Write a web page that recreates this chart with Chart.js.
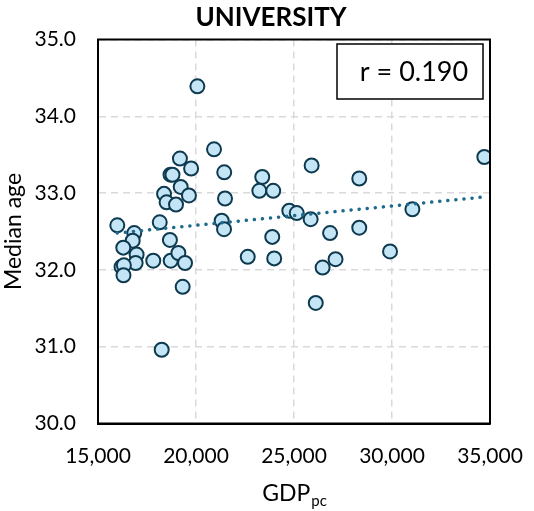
<!DOCTYPE html>
<html>
<head>
<meta charset="utf-8">
<script src="https://cdn.jsdelivr.net/npm/chart.js@4"></script>
<style>
  html, body { margin: 0; padding: 0; background: #ffffff; }
  #wrap { width: 534px; height: 511px; }
</style>
</head>
<body>
<div id="wrap"><canvas id="c" width="534" height="511"></canvas></div>
<script>
const chartTitle = 'UNIVERSITY';
const xAxisTitle = 'GDP';
const xAxisSub = 'pc';
const yAxisTitle = 'Median age';
const rLabel = 'r = 0.190';

const gdp = [20070, 20920, 19180, 19750, 18700, 18800, 21440, 19220, 18370, 19640,
             21480, 18500, 18980, 15985, 16850, 16770, 18150, 21310, 21430, 18670,
             16290, 16970, 16920, 17820, 18710, 19100, 19440, 16200, 16320, 16300,
             19320, 18250, 23380, 23230, 23940, 25900, 28330, 24760, 25140, 25850,
             26840, 28330, 23890, 22640, 23990, 27120, 26460, 26110, 34710, 31040,
             29900];
const age = [34.39, 33.57, 33.45, 33.32, 33.24, 33.24, 33.27, 33.08, 32.99, 32.97,
             32.93, 32.88, 32.85, 32.58, 32.48, 32.38, 32.62, 32.64, 32.53, 32.39,
             32.29, 32.20, 32.09, 32.12, 32.12, 32.22, 32.09, 32.04, 32.06, 31.93,
             31.78, 30.96, 33.21, 33.03, 33.03, 33.36, 33.19, 32.77, 32.74, 32.66,
             32.48, 32.55, 32.43, 32.17, 32.15, 32.14, 32.03, 31.57, 33.47, 32.79,
             32.24];
const trendX = [15985, 34710];
const trendY = [32.48, 32.95];

const xTicks = [15000, 20000, 25000, 30000, 35000];
const yTicks = [30, 31, 32, 33, 34, 35];

const FONT = 'Lato, "Open Sans", sans-serif';

const points = gdp.map((x, i) => ({ x: x, y: age[i] }));
const trend = trendX.map((x, i) => ({ x: x, y: trendY[i] }));

const frameAndExtras = {
  id: 'frameAndExtras',
  afterDatasetsDraw(chart) {
    const { ctx, chartArea: a } = chart;
    ctx.save();
    ctx.strokeStyle = '#000';
    ctx.lineWidth = 2;
    ctx.strokeRect(a.left, a.top, a.right - a.left, a.bottom - a.top);
    // title
    ctx.fillStyle = '#000';
    ctx.font = 'bold 26px ' + FONT;
    ctx.textAlign = 'center';
    ctx.textBaseline = 'middle';
    ctx.fillText(chartTitle, 271, 17.5);
    // r box
    const bx = 337, by = 44, bw = 146, bh = 55;
    ctx.fillStyle = '#fff';
    ctx.fillRect(bx, by, bw, bh);
    ctx.lineWidth = 1.5;
    ctx.strokeRect(bx, by, bw, bh);
    ctx.fillStyle = '#000';
    ctx.font = '27px ' + FONT;
    ctx.fillText(rLabel, bx + bw / 2 + 4, by + bh / 2 + 1);
    // x axis title with subscript
    ctx.font = '23px ' + FONT;
    const w1 = ctx.measureText(xAxisTitle).width;
    ctx.font = '15px ' + FONT;
    const w2 = ctx.measureText(xAxisSub).width;
    const cx = (a.left + a.right) / 2;
    const start = cx - (w1 + w2) / 2;
    ctx.textAlign = 'left';
    ctx.textBaseline = 'alphabetic';
    ctx.font = '23px ' + FONT;
    ctx.fillText(xAxisTitle, start, 501);
    ctx.font = '15px ' + FONT;
    ctx.fillText(xAxisSub, start + w1 + 1, 506);
    ctx.restore();
  }
};

new Chart(document.getElementById('c'), {
  type: 'scatter',
  data: {
    datasets: [
      {
        type: 'line',
        data: trend,
        borderColor: '#1d6b8c',
        borderWidth: 3.5,
        borderDash: [0.1, 8],
        borderCapStyle: 'round',
        pointRadius: 0,
        fill: false,
        order: 0
      },
      {
        data: points,
        pointRadius: 7,
        pointHoverRadius: 7,
        backgroundColor: '#c4e5f5',
        borderColor: '#0e3a50',
        borderWidth: 2,
        order: 1
      }
    ]
  },
  plugins: [frameAndExtras],
  options: {
    responsive: false,
    animation: false,
    events: [],
    layout: { padding: { top: 39.5, right: 44, left: 0, bottom: 0 } },
    plugins: {
      legend: { display: false },
      tooltip: { enabled: false },
      title: { display: false }
    },
    scales: {
      x: {
        type: 'linear',
        min: 15000,
        max: 35000,
        afterBuildTicks(scale) { scale.ticks = xTicks.map(v => ({ value: v })); },
        afterFit(scale) {
          scale.height = 87.5;
          scale.paddingLeft = 0;
          scale.paddingRight = 0;
        },
        ticks: {
          color: '#000',
          padding: 20,
          font: { family: FONT, size: 21 },
          maxRotation: 0,
          callback: v => v.toLocaleString('en-US')
        },
        grid: {
          color: '#d9d9d9',
          lineWidth: 1.5,
          drawTicks: false
        },
        border: { display: true, color: '#000', width: 2, dash: [7, 5] },
        title: { display: false }
      },
      y: {
        type: 'linear',
        min: 30,
        max: 35,
        afterBuildTicks(scale) { scale.ticks = yTicks.map(v => ({ value: v })); },
        afterFit(scale) {
          scale.width = 98;
          scale.paddingTop = 0;
          scale.paddingBottom = 0;
        },
        ticks: {
          color: '#000',
          padding: 22,
          font: { family: FONT, size: 21 },
          callback: v => Number(v).toFixed(1)
        },
        grid: {
          color: '#d9d9d9',
          lineWidth: 1.5,
          drawTicks: false
        },
        border: { display: true, color: '#000', width: 2, dash: [7, 5] },
        title: {
          display: true,
          text: yAxisTitle,
          color: '#000',
          font: { family: FONT, size: 23 },
          padding: { top: 0, bottom: 0 }
        }
      }
    }
  }
});
</script>
</body>
</html>
